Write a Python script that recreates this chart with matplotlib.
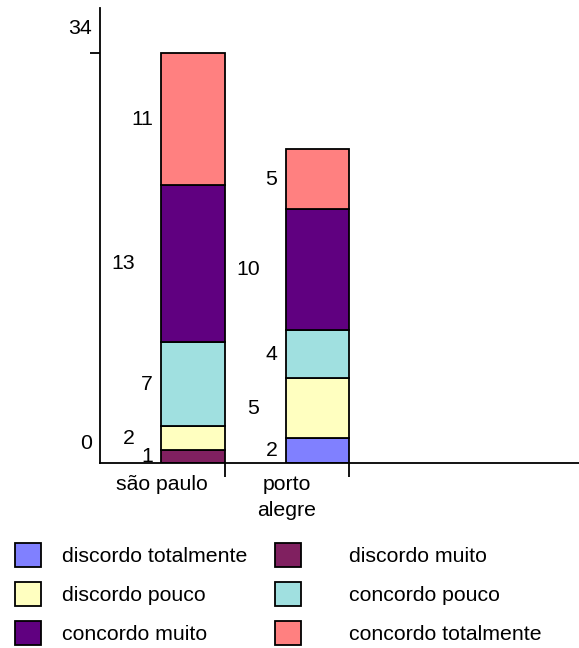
import numpy as np
import matplotlib.pyplot as plt
from matplotlib.patches import Patch
from matplotlib.transforms import offset_copy, ScaledTranslation

plt.rcParams['font.family'] = ['Liberation Sans', 'DejaVu Sans']

cities = ["são paulo", "porto\nalegre"]
answers = ["discordo totalmente", "discordo muito", "discordo pouco",
           "concordo pouco", "concordo muito", "concordo totalmente"]
counts = {
    "discordo totalmente": [0, 2],
    "discordo muito": [1, 0],
    "discordo pouco": [2, 5],
    "concordo pouco": [7, 4],
    "concordo muito": [13, 10],
    "concordo totalmente": [11, 5],
}
colors = ["#8080ff", "#802060", "#ffffc0", "#a0e0e0", "#600080", "#ff8080"]

fig = plt.figure(figsize=(5.79, 6.48), dpi=100)
ax = fig.add_axes([100/579, 1-462.5/648, 1-100/579, (462.5-8)/648])

x = np.arange(len(cities)) + 0.745
width = 0.51
bottom = np.zeros(len(cities))
nlab = [0] * len(cities)
for name, col in zip(answers, colors):
    vals = np.array(counts[name], dtype=float)
    ax.bar(x, vals, width, bottom=bottom, color=col, edgecolor="black", linewidth=1.3)
    for i, v in enumerate(vals):
        if v > 0:
            # labels alternate between a near and a far position
            off = -8 if nlab[i] % 2 == 0 else -26
            tr = offset_copy(ax.transData, fig=fig, x=off, y=0, units="dots")
            ax.text(x[i] - width/2, bottom[i] + v/2, f"{int(v)}", transform=tr,
                    ha="right", va="center", fontsize=15.3)
            nlab[i] += 1
    bottom += vals

ax.set_xlim(0, 479/124.5)
ax.set_ylim(0, 454.5/12.05)

for s in ["top", "right"]:
    ax.spines[s].set_visible(False)
for s in ["left", "bottom"]:
    ax.spines[s].set_linewidth(1.3)

ax.set_yticks([0, 34])
ax.set_yticklabels(["0", "34"], fontsize=15.3)
ax.tick_params(axis="y", length=7, width=1.3, pad=-1)
ax.yaxis.get_major_ticks()[0].tick1line.set_visible(False)
for lab, dy in zip(ax.get_yticklabels(), [21, 26]):
    lab.set_transform(lab.get_transform() + ScaledTranslation(0, dy/100, fig.dpi_scale_trans))

ax.set_xticks([1, 2])
ax.set_xticklabels([])
ax.tick_params(axis="x", which="major", length=10, width=1.3)
ax.set_xticks(np.arange(len(cities)) + 0.5, minor=True)
ax.set_xticklabels(cities, minor=True, fontsize=15.3, linespacing=1.45)
ax.tick_params(axis="x", which="minor", length=0, pad=9)

handles = [Patch(facecolor=c, edgecolor="black", linewidth=1.3) for c in colors]
kw = dict(frameon=False, loc="upper left", borderpad=0, borderaxespad=0,
          fontsize=15.3, handlelength=1.2, handleheight=1.35, labelspacing=0.72)
fig.legend(handles[0::2], answers[0::2], bbox_to_anchor=(15/579, 1-543/648),
           handletextpad=1.0, **kw)
fig.legend(handles[1::2], answers[1::2], bbox_to_anchor=(275/579, 1-543/648),
           handletextpad=2.3, **kw)

fig.savefig("out.png", dpi=100)
